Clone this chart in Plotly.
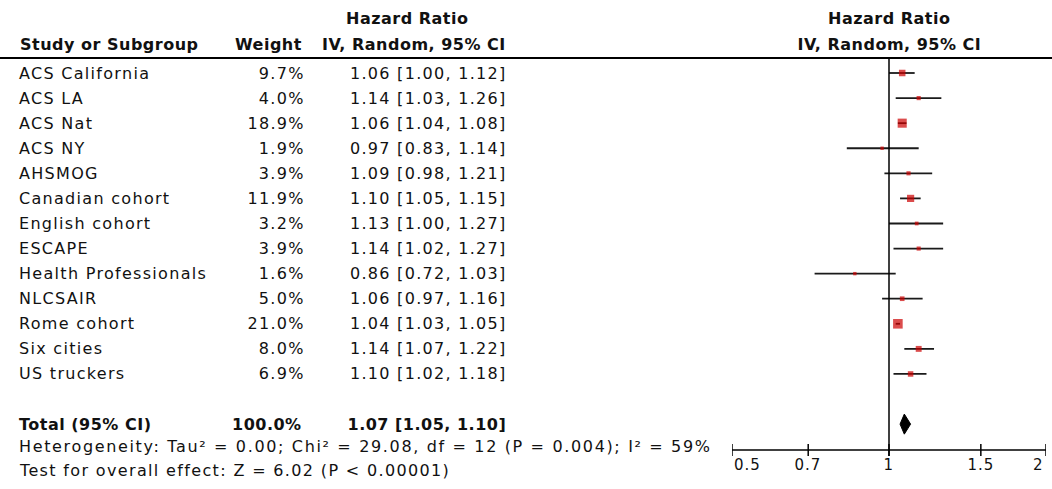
import plotly.graph_objects as go
import math

# ---------------- data ----------------
studies = ["ACS California", "ACS LA", "ACS Nat", "ACS NY", "AHSMOG", "Canadian cohort",
           "English cohort", "ESCAPE", "Health Professionals", "NLCSAIR", "Rome cohort",
           "Six cities", "US truckers"]
weights = [9.7, 4.0, 18.9, 1.9, 3.9, 11.9, 3.2, 3.9, 1.6, 5.0, 21.0, 8.0, 6.9]
hr = [1.06, 1.14, 1.06, 0.97, 1.09, 1.10, 1.13, 1.14, 0.86, 1.06, 1.04, 1.14, 1.10]
ci_low = [1.00, 1.03, 1.04, 0.83, 0.98, 1.05, 1.00, 1.02, 0.72, 0.97, 1.03, 1.07, 1.02]
ci_high = [1.12, 1.26, 1.08, 1.14, 1.21, 1.15, 1.27, 1.27, 1.03, 1.16, 1.05, 1.22, 1.18]

total_label = "Total (95% CI)"
total_weight = 100.0
total_hr = 1.07
total_low = 1.05
total_high = 1.10

heterogeneity = "Heterogeneity: Tau² = 0.00; Chi² = 29.08, df = 12 (P = 0.004); I² = 59%"
overall_test = "Test for overall effect: Z = 6.02 (P < 0.00001)"

tick_vals = [0.5, 0.7, 1, 1.5, 2]
tick_text = ["0.5", "0.7", "1", "1.5", "2"]

# ---------------- layout helpers ----------------
W, H = 1052, 489
ROW0_PX, ROW_PX = 73, 25.08
def row(px):
    return (px - ROW0_PX) / ROW_PX

rows = list(range(len(studies)))
total_row = len(studies) + 1
FONT = "DejaVu Sans"
TXT = "#111111"
RED = "#cc0000"

def px_x(p):
    return p / W

fig = go.Figure()

# CI lines + boxes
sizes = [max(3.4, 9.6 * math.sqrt(w / 21.0)) for w in weights]
fig.add_trace(go.Scatter(
    x=hr, y=rows, mode="markers",
    marker=dict(symbol="square", size=sizes, color=RED, line=dict(width=0)),
    error_x=dict(type="data", symmetric=False,
                 array=[h2 - m for h2, m in zip(ci_high, hr)],
                 arrayminus=[m - l for m, l in zip(hr, ci_low)],
                 color="#1a1a1a", thickness=1.8, width=0),
    hoverinfo="skip", showlegend=False, cliponaxis=False))

# total diamond
dh = 0.40
fig.add_trace(go.Scatter(
    x=[total_low, total_hr, total_high, total_hr, total_low],
    y=[total_row, total_row - dh, total_row, total_row + dh, total_row],
    mode="lines", fill="toself", fillcolor="black",
    line=dict(color="black", width=1), hoverinfo="skip", showlegend=False))

shapes = []
# header rule
shapes.append(dict(type="line", xref="paper", yref="y", x0=0, x1=1,
                   y0=row(58), y1=row(58), line=dict(color="black", width=2)))
# line of no effect
shapes.append(dict(type="line", xref="x", yref="y", x0=1, x1=1,
                   y0=row(58), y1=row(456), line=dict(color="black", width=1.5)))
# axis line + ticks
axis_y = row(450)
shapes.append(dict(type="line", xref="x", yref="y", x0=tick_vals[0], x1=tick_vals[-1],
                   y0=axis_y, y1=axis_y, line=dict(color="black", width=1.5)))
for tv in tick_vals:
    shapes.append(dict(type="line", xref="x", yref="y", x0=tv, x1=tv,
                       y0=axis_y - 0.24, y1=axis_y + 0.24, line=dict(color="black", width=1.5)))

ann = []
spacing = {}
def add(text, x, y, xanchor="left", xref="paper", bold=False, size=16, color=TXT, ls=None):
    if xref == "x":
        x = math.log10(x)  # annotation positions on a log axis are given in log10 units
    if ls is not None:
        spacing[len(ann)] = ls
    ann.append(dict(text=f"<b>{text}</b>" if bold else text, x=x, y=y, xref=xref, yref="y",
                    xanchor=xanchor, align=xanchor, yanchor="middle", showarrow=False,
                    font=dict(family=FONT, size=size, color=color)))

# headers
hy1, hy2 = row(18), row(44)
add("Study or Subgroup", px_x(18), hy2, bold=True)
add("Weight", px_x(304), hy2, "right", bold=True)
add("Hazard Ratio", px_x(407), hy1, "center", bold=True)
add("IV, Random, 95% CI", px_x(508), hy2, "right", bold=True)
add("Hazard Ratio", 1, hy1, "center", xref="x", bold=True)
add("IV, Random, 95% CI", 1, hy2, "center", xref="x", bold=True)

# study rows
for i, s in enumerate(studies):
    add(s, px_x(17), rows[i])
    add(f"{weights[i]:.1f}%", px_x(307), rows[i], "right")
    add(f"{hr[i]:.2f} [{ci_low[i]:.2f}, {ci_high[i]:.2f}]", px_x(509), rows[i], "right")

# total row
add(total_label, px_x(17), total_row, bold=True)
add(f"{total_weight:.1f}%", px_x(304), total_row, "right", bold=True)
add(f"{total_hr:.2f} [{total_low:.2f}, {total_high:.2f}]", px_x(508), total_row, "right", bold=True)

# footer text
add(heterogeneity, px_x(17), row(446), ls=1.65)
add(overall_test, px_x(17), row(470), ls=1.35)

# tick labels
for k, (tv, tt) in enumerate(zip(tick_vals, tick_text)):
    xa = "left" if k == 0 else ("right" if k == len(tick_vals) - 1 else "center")
    add(tt, tv, row(465), xa, xref="x", size=15, ls=1.0)

fig.update_layout(
    width=W, height=H, margin=dict(l=0, r=0, t=0, b=0),
    paper_bgcolor="white", plot_bgcolor="white",
    shapes=shapes, annotations=ann, showlegend=False,
    xaxis=dict(type="log", domain=[732 / W, 1046 / W],
               range=[math.log10(tick_vals[0]), math.log10(tick_vals[-1])],
               showgrid=False, zeroline=False, showticklabels=False, showline=False, ticks=""),
    yaxis=dict(range=[row(H), row(0)], domain=[0, 1], showgrid=False, zeroline=False,
               showticklabels=False, showline=False, ticks=""),
)

css = ['.annotation-text{letter-spacing:1.3px}',
       '.annotation-text tspan[style*="bold"]{letter-spacing:0.5px}']
for idx, ls in spacing.items():
    css.append(f'.annotation[data-index="{idx}"] .annotation-text{{letter-spacing:{ls}px}}')
post = """
document.body.style.margin = '0';
document.body.style.overflow = 'hidden';
var st = document.createElement('style');
st.textContent = %r;
document.head.appendChild(st);
""" % " ".join(css)

fig.write_html("out.html", post_script=post, config={"displayModeBar": False})
